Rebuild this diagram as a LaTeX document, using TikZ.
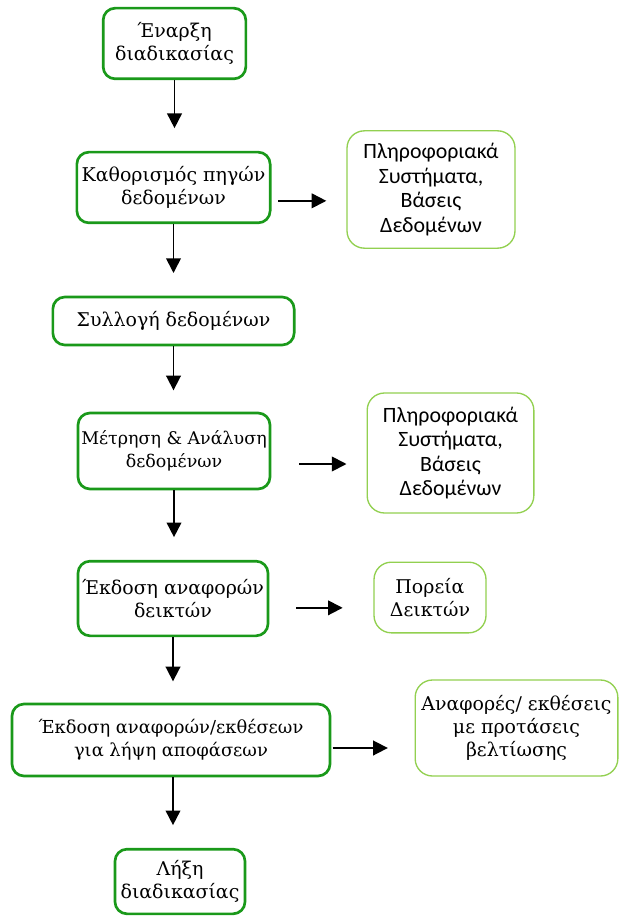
\documentclass[tikz,border=0pt]{standalone}
\usepackage{fontspec}
\setmainfont{DejaVu Serif}
\newfontfamily\notefont{Carlito}
\usepackage{xcolor}
\usetikzlibrary{arrows.meta}
\definecolor{stepgreen}{RGB}{26,153,26}
\definecolor{notegreen}{RGB}{146,208,80}
\tikzset{
  stepbox/.style={draw=stepgreen, line width=2pt, rounded corners=9pt, fill=white,
    align=center, inner sep=0pt, font=\fontsize{14.2}{17.4}\selectfont},
  narrowtext/.style={font=\fontsize{#1}{17.4}\selectfont},
  notebox/.style={draw=notegreen, line width=1pt, rounded corners=13pt, fill=white,
    align=center, inner sep=0pt, font=\notefont\fontsize{16.4}{18.4}\selectfont},
  noteserif/.style={notebox, font=\fontsize{14.2}{17.4}\selectfont},
  flow/.style={-{Triangle[length=11pt,width=11pt]}, line width=1.3pt}
}

\begin{document}
\begin{tikzpicture}[x=0.75pt,y=-0.75pt]
\useasboundingbox (0,0) rectangle (620,916);%

% Drawing the steps of the process
\node[stepbox, minimum width=107pt, minimum height=53pt] (start) at (174.5,43.5) {Έναρξη\\διαδικασίας};%
\node[stepbox, minimum width=145pt, minimum height=53pt] (sources) at (173.5,187.5) {Καθορισμός πηγών\\δεδομένων};%
\node[stepbox, minimum width=181pt, minimum height=36pt] (collect) at (173.5,321) {Συλλογή δεδομένων};%
\node[stepbox, narrowtext=13.1, minimum width=144pt, minimum height=57pt] (measure) at (174,451) {Μέτρηση \& Ανάλυση\\δεδομένων};%
\node[stepbox, minimum width=142.5pt, minimum height=56pt] (indicators) at (173,598.5) {Έκδοση αναφορών\\δεικτών};%
\node[stepbox, narrowtext=13.4, minimum width=238.5pt, minimum height=54pt] (decisions) at (171,740) {Έκδοση αναφορών/εκθέσεων\\για λήψη αποφάσεων};%
\node[stepbox, minimum width=97.5pt, minimum height=48.5pt] (finish) at (180,881.5) {Λήξη\\διαδικασίας};%

% Drawing the side notes
\node[notebox, minimum width=126pt, minimum height=88pt] (systemsA) at (431,189.5) {Πληροφοριακά\\Συστήματα,\\Βάσεις\\Δεδομένων};%
\node[notebox, minimum width=125pt, minimum height=90pt] (systemsB) at (450.5,453) {Πληροφοριακά\\Συστήματα,\\Βάσεις\\Δεδομένων};%
\node[noteserif, minimum width=84pt, minimum height=53pt] (trend) at (430,597.5) {Πορεία\\Δεικτών};%
\node[noteserif, minimum width=152pt, minimum height=72pt] (proposals) at (516.5,728) {Αναφορές/ εκθέσεις\\με προτάσεις\\βελτίωσης};%

% Drawing the main flow
\draw[flow, shorten >=17pt] (start.south) -- (start.south |- sources.north);%
\draw[flow, shorten >=17pt] (sources.south) -- (sources.south |- collect.north);%
\draw[flow, shorten >=16pt] (collect.south) -- (collect.south |- measure.north);%
\draw[flow, shorten >=17pt] (measure.south) -- (measure.south |- indicators.north);%
\draw[flow, shorten >=16pt] (indicators.south) -- (indicators.south |- decisions.north);%
\draw[flow, shorten >=17pt] (decisions.south -| indicators.south) -- (finish.north -| indicators.south);%

% Drawing the arrows to the side notes
\draw[flow, shorten <=5pt, shorten >=15pt] ([yshift=-10pt]sources.east) -- ([yshift=-10pt]sources.east -| systemsA.west);%
\draw[flow, shorten <=21pt, shorten >=15pt] ([yshift=-9.75pt]measure.east) -- ([yshift=-9.75pt]measure.east -| systemsB.west);%
\draw[flow, shorten <=20pt, shorten >=23pt] ([yshift=-7pt]indicators.east) -- ([yshift=-7pt]indicators.east -| trend.west);%
\draw[flow, shorten <=1pt, shorten >=20pt] ([yshift=-6pt]decisions.east) -- ([yshift=-6pt]decisions.east -| proposals.west);%
\end{tikzpicture}
\end{document}
